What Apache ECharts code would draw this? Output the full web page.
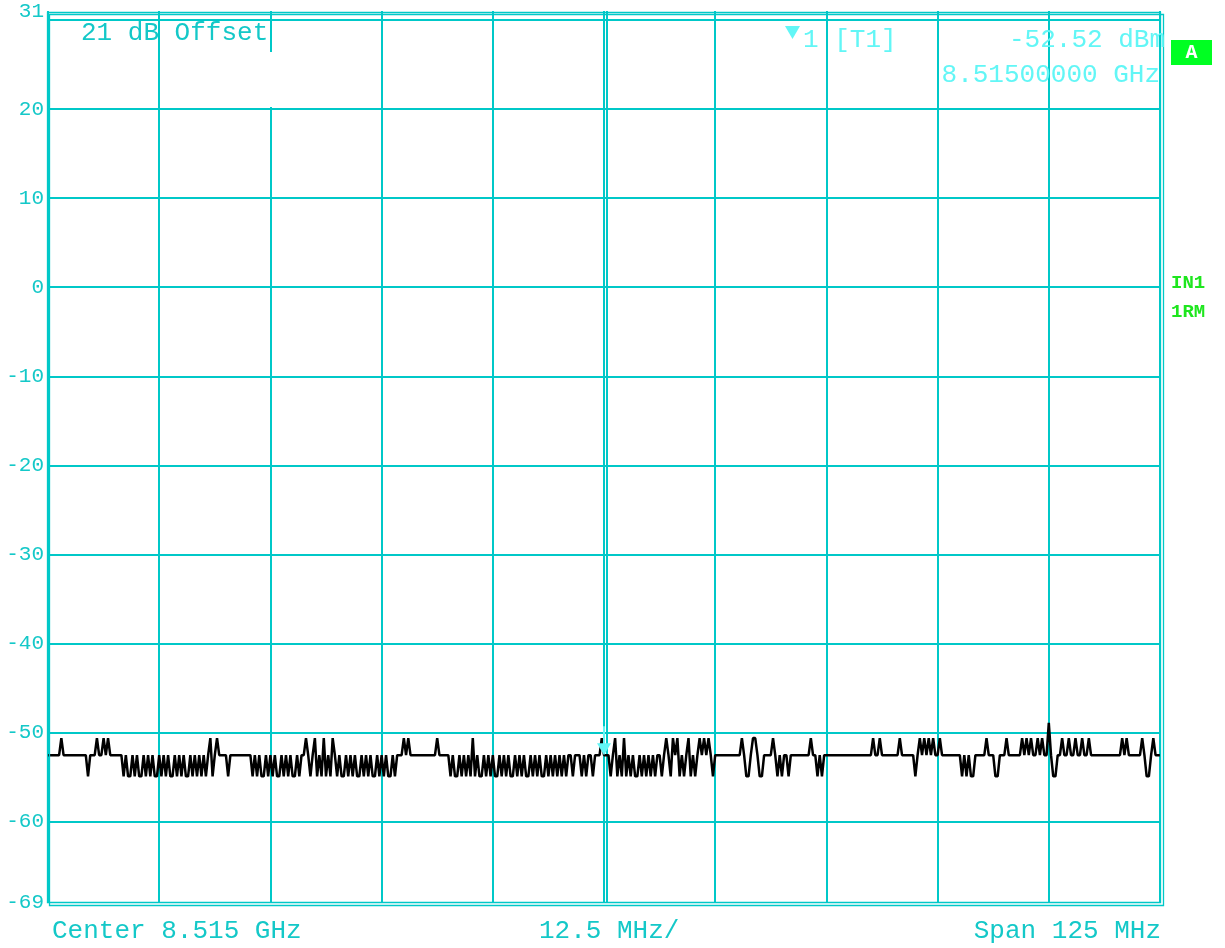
<!DOCTYPE html>
<html>
<head>
<meta charset="utf-8">
<script src="https://cdn.jsdelivr.net/npm/echarts@6/dist/echarts.min.js"></script>
<style>
html, body { margin: 0; padding: 0; background: #ffffff; }
#chart { width: 1225px; height: 948px; }
</style>
</head>
<body>
<div id="chart"></div>
<script>
// Sweep settings of the spectrum analyser screen
const centerGHz = 8.515;
const spanMHz = 125;
const divMHz = 12.5;
const refOffsetDb = 21;

// Level axis: printed labels and graticule levels (dBm)
const yTickLabels = [31, 20, 10, 0, -10, -20, -30, -40, -50, -60, -69];
const gridLevels = [30, 20, 10, 0, -10, -20, -30, -40, -50, -60];

// Marker 1 (trace 1) sits on the centre frequency
const markerOffsetMHz = 0;
const markerDbm = -52.52;

// Trace 1, 501 sweep points across the span (dBm)
const traceDbm = [
  -52.52, -52.52, -52.52, -52.52, -52.52, -52.52, -50.6, -52.52, -52.52, -52.52,
  -52.52, -52.52, -52.52, -52.52, -52.52, -52.52, -52.52, -52.52, -54.9, -52.52,
  -52.52, -52.52, -50.6, -52.52, -52.52, -50.6, -52.52, -50.6, -52.52, -52.52,
  -52.52, -52.52, -52.52, -52.52, -54.9, -52.52, -54.9, -54.9, -52.52, -54.9,
  -52.52, -54.9, -54.9, -52.52, -54.9, -52.52, -54.9, -52.52, -54.9, -54.9,
  -52.52, -54.9, -52.52, -54.9, -52.52, -54.9, -54.9, -52.52, -54.9, -52.52,
  -54.9, -52.52, -54.9, -54.9, -52.52, -54.9, -52.52, -54.9, -52.52, -54.9,
  -52.52, -54.9, -52.52, -50.6, -54.9, -52.52, -50.6, -52.52, -52.52, -52.52,
  -52.52, -54.9, -52.52, -52.52, -52.52, -52.52, -52.52, -52.52, -52.52, -52.52,
  -52.52, -52.52, -54.9, -52.52, -54.9, -52.52, -54.9, -54.9, -52.52, -54.9,
  -52.52, -54.9, -52.52, -54.9, -54.9, -52.52, -54.9, -52.52, -54.9, -52.52,
  -54.9, -54.9, -52.52, -54.9, -52.52, -52.52, -50.6, -52.52, -54.9, -52.52,
  -50.6, -54.9, -52.52, -54.9, -50.6, -54.9, -52.52, -54.9, -50.6, -52.52,
  -54.9, -52.52, -54.9, -54.9, -52.52, -54.9, -52.52, -54.9, -52.52, -54.9,
  -54.9, -52.52, -54.9, -52.52, -54.9, -52.52, -54.9, -54.9, -52.52, -54.9,
  -52.52, -54.9, -52.52, -54.9, -54.9, -52.52, -54.9, -52.52, -52.52, -52.52,
  -50.6, -52.52, -50.6, -52.52, -52.52, -52.52, -52.52, -52.52, -52.52, -52.52,
  -52.52, -52.52, -52.52, -52.52, -52.52, -50.6, -52.52, -52.52, -52.52, -52.52,
  -52.52, -54.9, -52.52, -54.9, -54.9, -52.52, -54.9, -52.52, -54.9, -52.52,
  -54.9, -50.6, -54.9, -52.52, -54.9, -54.9, -52.52, -54.9, -52.52, -54.9,
  -52.52, -54.9, -54.9, -52.52, -54.9, -52.52, -54.9, -52.52, -54.9, -54.9,
  -52.52, -54.9, -52.52, -54.9, -52.52, -54.9, -54.9, -52.52, -54.9, -52.52,
  -54.9, -52.52, -54.9, -54.9, -52.52, -54.9, -52.52, -54.9, -52.52, -54.9,
  -52.52, -54.9, -52.52, -54.9, -52.52, -52.52, -54.9, -52.52, -52.52, -52.52,
  -54.9, -52.52, -54.9, -52.52, -52.52, -54.9, -52.52, -52.52, -52.52, -50.6,
  -52.52, -52.52, -52.52, -54.9, -52.52, -50.6, -54.9, -52.52, -54.9, -50.6,
  -54.9, -52.52, -54.9, -52.52, -54.9, -54.9, -52.52, -54.9, -52.52, -54.9,
  -52.52, -54.9, -52.52, -54.9, -52.52, -52.52, -54.9, -52.52, -50.6, -52.52,
  -54.9, -50.6, -52.52, -50.6, -54.9, -52.52, -54.9, -52.52, -50.6, -54.9,
  -52.52, -54.9, -52.52, -50.6, -52.52, -50.6, -52.52, -50.6, -52.52, -54.9,
  -52.52, -52.52, -52.52, -52.52, -52.52, -52.52, -52.52, -52.52, -52.52, -52.52,
  -52.52, -52.52, -50.6, -52.52, -54.9, -54.9, -52.52, -50.6, -50.6, -52.52,
  -54.9, -54.9, -52.52, -52.52, -52.52, -52.52, -50.6, -52.52, -54.9, -52.52,
  -54.9, -52.52, -52.52, -54.9, -52.52, -52.52, -52.52, -52.52, -52.52, -52.52,
  -52.52, -52.52, -52.52, -50.6, -52.52, -52.52, -54.9, -52.52, -54.9, -52.52,
  -52.52, -52.52, -52.52, -52.52, -52.52, -52.52, -52.52, -52.52, -52.52, -52.52,
  -52.52, -52.52, -52.52, -52.52, -52.52, -52.52, -52.52, -52.52, -52.52, -52.52,
  -52.52, -50.6, -52.52, -52.52, -50.6, -52.52, -52.52, -52.52, -52.52, -52.52,
  -52.52, -52.52, -52.52, -50.6, -52.52, -52.52, -52.52, -52.52, -52.52, -52.52,
  -54.9, -52.52, -50.6, -52.52, -50.6, -52.52, -50.6, -52.52, -50.6, -52.52,
  -52.52, -50.6, -52.52, -52.52, -52.52, -52.52, -52.52, -52.52, -52.52, -52.52,
  -52.52, -54.9, -52.52, -54.9, -52.52, -54.9, -54.9, -52.52, -52.52, -52.52,
  -52.52, -52.52, -50.6, -52.52, -52.52, -52.52, -54.9, -54.9, -52.52, -52.52,
  -52.52, -50.6, -52.52, -52.52, -52.52, -52.52, -52.52, -52.52, -50.6, -52.52,
  -50.6, -52.52, -50.6, -52.52, -52.52, -50.6, -52.52, -50.6, -52.52, -52.52,
  -48.9, -52.52, -54.9, -54.9, -52.52, -52.52, -50.6, -52.52, -52.52, -50.6,
  -52.52, -52.52, -50.6, -52.52, -52.52, -50.6, -52.52, -52.52, -50.6, -52.52,
  -52.52, -52.52, -52.52, -52.52, -52.52, -52.52, -52.52, -52.52, -52.52, -52.52,
  -52.52, -52.52, -52.52, -50.6, -52.52, -50.6, -52.52, -52.52, -52.52, -52.52,
  -52.52, -52.52, -50.6, -52.52, -54.9, -54.9, -52.52, -50.6, -52.52, -52.52,
  -52.52
];

// Frequency of each sweep point, as offset from the centre (MHz)
const stepMHz = spanMHz / (traceDbm.length - 1);
const traceData = traceDbm.map((v, i) => [-spanMHz / 2 + i * stepMHz, v]);

const GRID_CYAN = '#00C8C8';
const TEXT_CYAN = '#14C8C8';
const MARK_CYAN = '#62F6F6';
const STATUS_GREEN = '#1EE61E';
const MONO = '"Liberation Mono", "DejaVu Sans Mono", monospace';
const FONT = '26px ' + MONO;

const G = { left: 48, right: 65, top: 11, bottom: 46 };

const chart = echarts.init(document.getElementById('chart'), null, { renderer: 'canvas' });

chart.setOption({
  animation: false,
  backgroundColor: '#ffffff',
  grid: { left: G.left, right: G.right, top: G.top, bottom: G.bottom },
  xAxis: {
    type: 'value',
    min: -spanMHz / 2,
    max: spanMHz / 2,
    interval: divMHz,
    axisLine: { show: false },
    axisTick: { show: false },
    axisLabel: { show: false },
    splitLine: { show: true, lineStyle: { color: GRID_CYAN, width: 2 } }
  },
  yAxis: {
    type: 'value',
    min: -69,
    max: 31,
    axisLine: { show: false },
    axisTick: { show: false },
    splitLine: { show: false },
    axisLabel: {
      customValues: yTickLabels,
      color: TEXT_CYAN,
      fontFamily: MONO,
      fontSize: 21,
      margin: 4
    }
  },
  series: [{
    type: 'line',
    data: traceData,
    showSymbol: false,
    symbol: 'none',
    z: 5,
    lineStyle: { color: '#000000', width: 2.5 },
    markLine: {
      silent: true,
      symbol: 'none',
      label: { show: false },
      z: 1,
      lineStyle: { color: GRID_CYAN, width: 2, type: 'solid' },
      data: gridLevels.map(v => ({ yAxis: v })).concat([{ xAxis: markerOffsetMHz + 0.34 }])
    }
  }]
});

// Marker symbol on the trace, placed through the axes' scales
const mp = chart.convertToPixel({ gridIndex: 0 }, [markerOffsetMHz, markerDbm]);

chart.setOption({
  graphic: [
    // double frame round the graticule
    { type: 'rect', silent: true, z: 50,
      shape: { x: 47.5, y: 12.5, width: 1113, height: 890 },
      style: { fill: null, stroke: GRID_CYAN, lineWidth: 1.3 } },
    { type: 'rect', silent: true, z: 50,
      shape: { x: 49.5, y: 14.5, width: 1114, height: 891 },
      style: { fill: null, stroke: GRID_CYAN, lineWidth: 1.3 } },
    // label area of the offset note
    { type: 'rect', silent: true, z: 40,
      shape: { x: 265, y: 52, width: 11, height: 55 },
      style: { fill: '#ffffff' } },
    { type: 'text', silent: true, z: 60, x: 81, y: 33,
      style: { text: refOffsetDb + ' dB Offset', font: FONT, fill: TEXT_CYAN, verticalAlign: 'middle', align: 'left' } },
    // marker readout
    { type: 'polygon', silent: true, z: 60,
      shape: { points: [[785, 26], [800, 26], [792.5, 39]] },
      style: { fill: MARK_CYAN } },
    { type: 'text', silent: true, z: 60, x: 803, y: 40,
      style: { text: '1 [T1]', font: FONT, fill: MARK_CYAN, verticalAlign: 'middle', align: 'left' } },
    { type: 'text', silent: true, z: 60, x: 1165, y: 40,
      style: { text: markerDbm.toFixed(2) + ' dBm', font: FONT, fill: MARK_CYAN, verticalAlign: 'middle', align: 'right' } },
    { type: 'text', silent: true, z: 60, x: 1160, y: 75,
      style: { text: (centerGHz + markerOffsetMHz / 1000).toFixed(8) + ' GHz', font: FONT, fill: MARK_CYAN, verticalAlign: 'middle', align: 'right' } },
    // marker on the trace: stem and downward triangle
    { type: 'rect', silent: true, z: 70,
      shape: { x: mp[0] - 1, y: mp[1] - 29, width: 2, height: 18 },
      style: { fill: MARK_CYAN } },
    { type: 'polygon', silent: true, z: 70,
      shape: { points: [[mp[0] - 7, mp[1] - 12], [mp[0] + 7, mp[1] - 12], [mp[0], mp[1]]] },
      style: { fill: MARK_CYAN } },
    // trace status
    { type: 'rect', silent: true, z: 60,
      shape: { x: 1171, y: 40, width: 41, height: 25 },
      style: { fill: '#00FF22' } },
    { type: 'text', silent: true, z: 61, x: 1191.5, y: 53,
      style: { text: 'A', font: 'bold 20px ' + MONO, fill: '#ffffff', verticalAlign: 'middle', align: 'center' } },
    { type: 'text', silent: true, z: 60, x: 1171, y: 283,
      style: { text: 'IN1', font: 'bold 19px ' + MONO, fill: STATUS_GREEN, verticalAlign: 'middle', align: 'left' } },
    { type: 'text', silent: true, z: 60, x: 1171, y: 312,
      style: { text: '1RM', font: 'bold 19px ' + MONO, fill: STATUS_GREEN, verticalAlign: 'middle', align: 'left' } },
    // frequency annotation below the graticule
    { type: 'text', silent: true, z: 60, x: 52, y: 931,
      style: { text: 'Center ' + centerGHz + ' GHz', font: FONT, fill: TEXT_CYAN, verticalAlign: 'middle', align: 'left' } },
    { type: 'text', silent: true, z: 60, x: 539, y: 931,
      style: { text: divMHz + ' MHz/', font: FONT, fill: TEXT_CYAN, verticalAlign: 'middle', align: 'left' } },
    { type: 'text', silent: true, z: 60, x: 1161, y: 931,
      style: { text: 'Span ' + spanMHz + ' MHz', font: FONT, fill: TEXT_CYAN, verticalAlign: 'middle', align: 'right' } }
  ]
});
</script>
</body>
</html>
